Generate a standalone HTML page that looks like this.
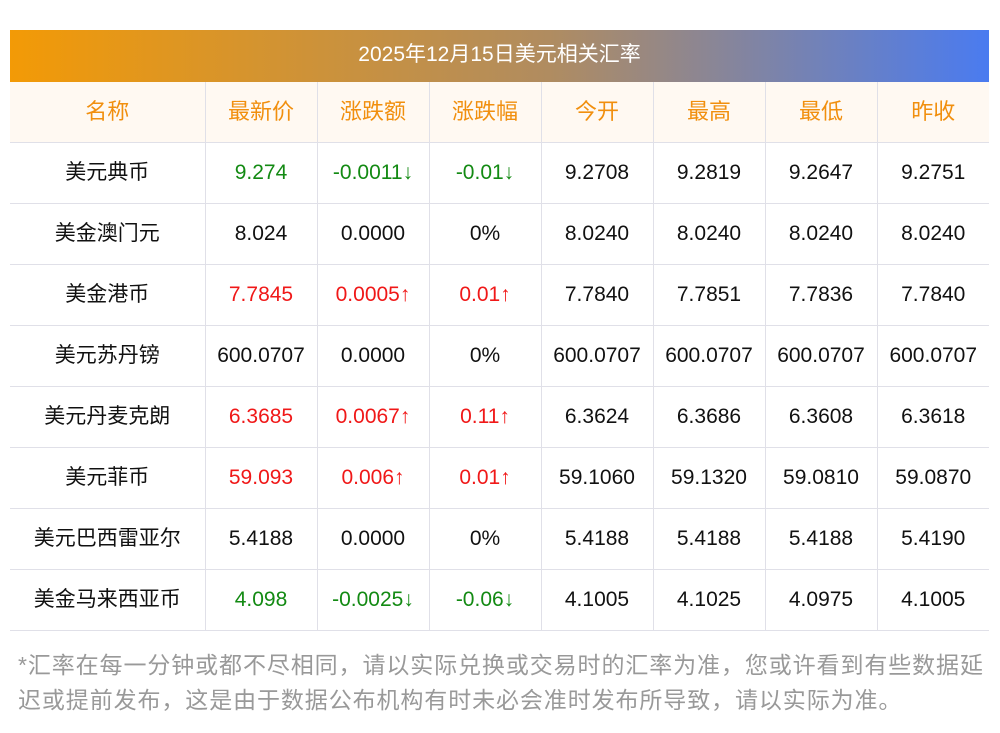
<!DOCTYPE html>
<html><head><meta charset="utf-8"><style>
body{margin:0;background:#fff;font-family:"Liberation Sans","Noto Sans CJK SC",sans-serif;}
.t{position:absolute;left:10px;top:30px;width:979px;height:52px;background:linear-gradient(90deg,#f39a06,#b08c60 55%,#4a7bf0);color:#fff;font-size:21px;text-align:center;line-height:50px;}
table{position:absolute;left:10px;top:82px;width:979px;border-collapse:collapse;table-layout:fixed;}
td{border-bottom:1px solid #e0e0e8;border-left:1px solid #e0e0e8;text-align:center;height:60px;font-size:21px;line-height:24px;color:#111;padding:0;white-space:nowrap;}
td:first-child{border-left:none;}
tr.h td{background:#fff9f2;color:#f18f0e;font-size:22px;}
.g{color:#138a13}.r{color:#f01818}
.n{position:absolute;left:18px;top:648px;width:990px;font-size:23px;line-height:35px;color:#999;white-space:nowrap;letter-spacing:0.9px;}
</style></head><body>
<div class="t">2025年12月15日美元相关汇率</div>
<table>
<colgroup><col style="width:195px"><col style="width:112px"><col style="width:112px"><col style="width:112px"><col style="width:112px"><col style="width:112px"><col style="width:112px"><col style="width:112px"></colgroup>
<tr class="h"><td>名称</td><td>最新价</td><td>涨跌额</td><td>涨跌幅</td><td>今开</td><td>最高</td><td>最低</td><td>昨收</td></tr>
<tr><td>美元典币</td><td class="g">9.274</td><td class="g">-0.0011↓</td><td class="g">-0.01↓</td><td>9.2708</td><td>9.2819</td><td>9.2647</td><td>9.2751</td></tr>
<tr><td>美金澳门元</td><td>8.024</td><td>0.0000</td><td>0%</td><td>8.0240</td><td>8.0240</td><td>8.0240</td><td>8.0240</td></tr>
<tr><td>美金港币</td><td class="r">7.7845</td><td class="r">0.0005↑</td><td class="r">0.01↑</td><td>7.7840</td><td>7.7851</td><td>7.7836</td><td>7.7840</td></tr>
<tr><td>美元苏丹镑</td><td>600.0707</td><td>0.0000</td><td>0%</td><td>600.0707</td><td>600.0707</td><td>600.0707</td><td>600.0707</td></tr>
<tr><td>美元丹麦克朗</td><td class="r">6.3685</td><td class="r">0.0067↑</td><td class="r">0.11↑</td><td>6.3624</td><td>6.3686</td><td>6.3608</td><td>6.3618</td></tr>
<tr><td>美元菲币</td><td class="r">59.093</td><td class="r">0.006↑</td><td class="r">0.01↑</td><td>59.1060</td><td>59.1320</td><td>59.0810</td><td>59.0870</td></tr>
<tr><td>美元巴西雷亚尔</td><td>5.4188</td><td>0.0000</td><td>0%</td><td>5.4188</td><td>5.4188</td><td>5.4188</td><td>5.4190</td></tr>
<tr><td>美金马来西亚币</td><td class="g">4.098</td><td class="g">-0.0025↓</td><td class="g">-0.06↓</td><td>4.1005</td><td>4.1025</td><td>4.0975</td><td>4.1005</td></tr>
</table>
<div class="n">*汇率在每一分钟或都不尽相同，请以实际兑换或交易时的汇率为准，您或许看到有些数据延<br>迟或提前发布，这是由于数据公布机构有时未必会准时发布所导致，请以实际为准。</div>
</body></html>
